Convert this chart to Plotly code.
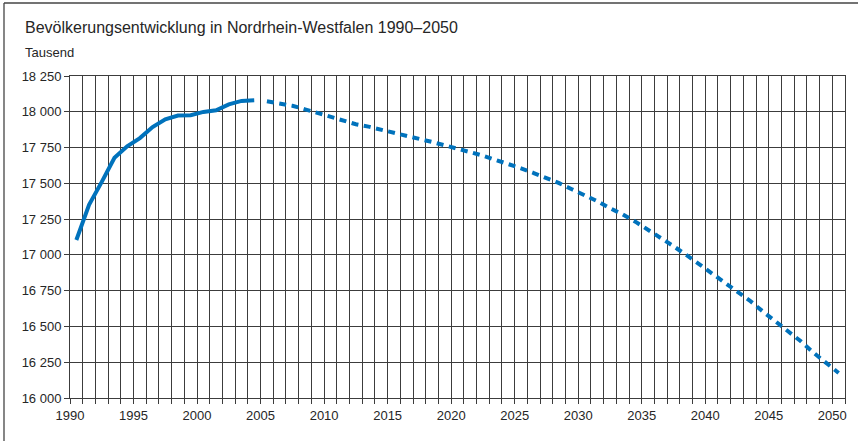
import plotly.graph_objects as go

# ---- data (thousands of inhabitants, Nordrhein-Westfalen) ----
years_actual = list(range(1990, 2005))
pop_actual = [17104, 17350, 17510, 17679, 17759, 17816, 17893, 17948, 17974,
              17976, 17999, 18010, 18052, 18076, 18080]

years_proj = list(range(2005, 2051))
pop_proj = [18073, 18059, 18042, 18017, 17991, 17963, 17935, 17913, 17896, 17873,
            17853, 17832, 17810, 17789, 17767, 17744, 17718, 17693, 17666, 17637,
            17605, 17572, 17538, 17501, 17459, 17418, 17375, 17326, 17283, 17232,
            17177, 17117, 17061, 17000, 16937, 16877, 16812, 16747, 16681, 16607,
            16537, 16468, 16398, 16318, 16244, 16175]

title_text = "Bevölkerungsentwicklung in Nordrhein-Westfalen 1990\u20132050"
unit_text = "Tausend"
x_tickvals = list(range(1990, 2051, 5))
y_tickvals = list(range(16000, 18251, 250))

# values are plotted in the middle of each year interval
MID = 0.5

BLUE = "#0072BC"
GRID = "#3c3c3c"
TEXT = "#262626"
FONT = "Liberation Sans, Arial, sans-serif"

W, H = 858, 441
L, R, T, B = 70, 13, 76, 43
pw, ph = W - L - R, H - T - B


def px_x(p):
    return (p - L) / pw


def px_y(p):
    return (H - B - p) / ph


fig = go.Figure()
fig.add_trace(go.Scatter(
    x=[y + MID for y in years_actual], y=pop_actual, mode="lines",
    line=dict(color=BLUE, width=4), hoverinfo="skip", showlegend=False))
fig.add_trace(go.Scatter(
    x=[y + MID for y in years_proj], y=pop_proj, mode="lines",
    line=dict(color=BLUE, width=4, dash="7px,5.5px"), hoverinfo="skip",
    showlegend=False))

fig.update_layout(
    width=W, height=H,
    margin=dict(l=L, r=R, t=T, b=B, pad=0),
    paper_bgcolor="white", plot_bgcolor="white",
    separators=", ",
    font=dict(family=FONT, size=13, color=TEXT),
    xaxis=dict(range=[1990, 2051], tickvals=x_tickvals, tickformat="d",
               ticks="outside", ticklen=5, tickcolor=GRID, tickwidth=1,
               showgrid=True, gridcolor=GRID, gridwidth=1,
               showline=True, linecolor=GRID, linewidth=1, mirror=True,
               minor=dict(dtick=1, tick0=1990, showgrid=True, gridcolor=GRID,
                          gridwidth=1, ticks="outside", ticklen=5,
                          tickcolor=GRID),
               zeroline=False, fixedrange=True),
    yaxis=dict(range=[16000, 18250], tickvals=y_tickvals, tickformat=",d",
               ticks="outside", ticklen=5, tickcolor=GRID, tickwidth=1,
               showgrid=True, gridcolor=GRID, gridwidth=1,
               showline=True, linecolor=GRID, linewidth=1, mirror=True,
               zeroline=False, fixedrange=True),
    annotations=[
        dict(text=title_text, xref="paper", yref="paper",
             x=px_x(23), xanchor="left", y=px_y(27), yanchor="middle",
             showarrow=False, font=dict(family=FONT, size=16, color=TEXT)),
        dict(text=unit_text, xref="paper", yref="paper",
             x=px_x(23), xanchor="left", y=px_y(52), yanchor="middle",
             showarrow=False, font=dict(family=FONT, size=13, color=TEXT)),
    ],
    shapes=[
        dict(type="line", xref="paper", yref="paper", x0=px_x(4), x1=px_x(4),
             y0=px_y(3), y1=px_y(H + 5), line=dict(color="#444", width=1.3)),
        dict(type="line", xref="paper", yref="paper", x0=px_x(4), x1=px_x(W + 5),
             y0=px_y(3), y1=px_y(3), line=dict(color="#444", width=1.3)),
    ],
)

fig.write_html("out.html",
               config={"displayModeBar": False},
               post_script="document.body.style.margin='0';"
                           "document.body.style.padding='0';")
